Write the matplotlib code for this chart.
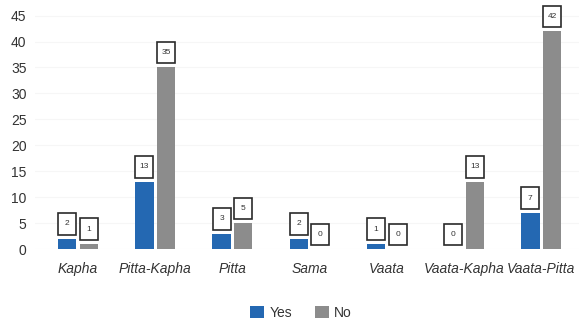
import matplotlib.pyplot as plt
import matplotlib.transforms as mtransforms
from matplotlib.patches import Rectangle
import numpy as np

plt.rcParams['font.family'] = ['Liberation Sans', 'DejaVu Sans']

categories = ['Kapha', 'Pitta-Kapha', 'Pitta', 'Sama', 'Vaata', 'Vaata-Kapha', 'Vaata-Pitta']
yes_counts = [2, 13, 3, 2, 1, 0, 7]
no_counts = [1, 35, 5, 0, 0, 13, 42]
yticks = [0, 5, 10, 15, 20, 25, 30, 35, 40, 45]

blue = '#2468b2'
grey = '#8c8c8c'

fig = plt.figure(figsize=(5.79, 3.21), dpi=100)
ax = fig.add_axes([0.06, 0.224, 0.94, 0.776])

x = np.arange(len(categories))
w = 0.24
off = 0.14
b1 = ax.bar(x - off, yes_counts, w, color=blue, label='Yes', zorder=2)
b2 = ax.bar(x + off, no_counts, w, color=grey, label='No', zorder=2)

# fixed-size boxed value labels sitting just above each bar (sizes in inches)
box_w, box_h, gap = 0.18, 0.215, 0.04
for bars in (b1, b2):
    for rect in bars:
        h = rect.get_height()
        xc = rect.get_x() + rect.get_width() / 2
        tr = fig.dpi_scale_trans + mtransforms.ScaledTranslation(xc, h, ax.transData)
        ax.add_patch(Rectangle((-box_w / 2, gap), box_w, box_h, transform=tr,
                               fc='white', ec='#2a2a2a', lw=1.2, zorder=3, clip_on=False))
        ax.text(0, gap + box_h / 2, str(int(h)), transform=tr, ha='center', va='center',
                fontsize=6, color='#333333', zorder=4)

ax.set_xlim(-0.56, 6.49)
ax.set_ylim(0, 48)
ax.set_yticks(yticks)
ax.set_xticks(x)
ax.set_xticklabels(categories, fontstyle='italic')
ax.tick_params(axis='both', length=0, labelsize=10, colors='#333333')
ax.tick_params(axis='x', pad=9)
ax.tick_params(axis='y', pad=6)
ax.grid(axis='y', color='#f6f6f6', lw=0.8, zorder=0)
for s in ax.spines.values():
    s.set_visible(False)

fig.legend(loc='lower center', bbox_to_anchor=(0.52, -0.035), ncol=2, frameon=False,
           handlelength=1.0, handleheight=1.0, handletextpad=0.4, columnspacing=1.6,
           fontsize=10, labelcolor='#333333')

fig.savefig('out.png', dpi=100)
